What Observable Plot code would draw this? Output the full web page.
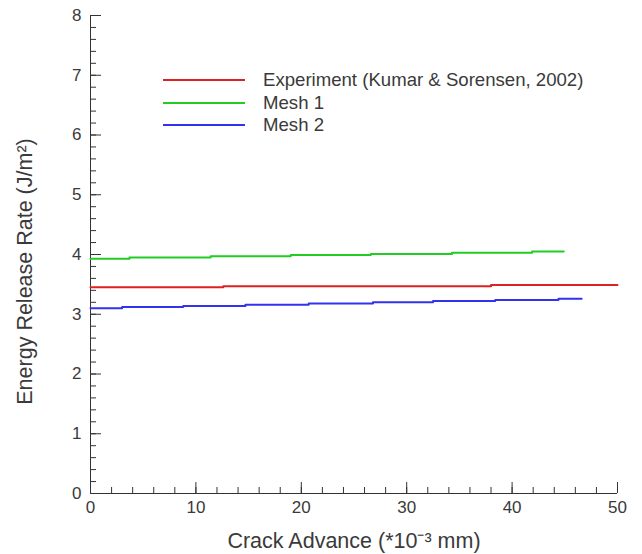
<!DOCTYPE html>
<html><head><meta charset="utf-8">
<script src="https://cdn.jsdelivr.net/npm/d3@7"></script>
<script src="https://cdn.jsdelivr.net/npm/@observablehq/plot@0.6"></script>
<style>
body{margin:0;background:#fff;font-family:"Liberation Sans",Arial,sans-serif;}
#wrap{position:relative;width:642px;height:554px;}
#legend{position:absolute;left:163px;top:69px;font-size:18.6px;color:#3a3a3a;}
#legend .row{display:flex;align-items:center;height:22.5px;}
#legend .sw{width:82px;height:2px;margin-right:18px;}
</style></head><body>
<div id="wrap"></div>
<script>
const seriesNames = ["Experiment (Kumar & Sorensen, 2002)", "Mesh 1", "Mesh 2"];
const seriesColors = ["#dd2222", "#22cc22", "#3333ee"];
const expX = [0, 12.6, 38.0, 50];
const expY = [3.45, 3.47, 3.49, 3.49];
const mesh1X = [0, 3.7, 11.4, 19.0, 26.6, 34.3, 41.9, 44.9];
const mesh1Y = [3.93, 3.95, 3.97, 3.99, 4.01, 4.03, 4.05, 4.05];
const mesh2X = [0, 3.0, 8.8, 14.7, 20.7, 26.8, 32.5, 38.4, 44.4, 46.6];
const mesh2Y = [3.10, 3.12, 3.14, 3.16, 3.18, 3.20, 3.22, 3.24, 3.26, 3.26];
const xMajor = [0, 10, 20, 30, 40, 50];
const yMajor = [0, 1, 2, 3, 4, 5, 6, 7, 8];
const xMinor = d3.range(0, 50.01, 2);
const yMinor = d3.range(0, 8.01, 0.2);
const xTitle = "Crack Advance (*10⁻³ mm)";
const yTitle = "Energy Release Rate (J/m²)";

const rows = [];
[[expX, expY], [mesh1X, mesh1Y], [mesh2X, mesh2Y]].forEach(([xs, ys], i) => {
  xs.forEach((x, j) => rows.push({series: seriesNames[i], x, y: ys[j]}));
});

const axisColor = "#333";
const txt = "#3a3a3a";
const chart = Plot.plot({
  width: 642, height: 554,
  marginLeft: 90, marginRight: 25, marginTop: 15, marginBottom: 61,
  style: {fontFamily: "'Liberation Sans', Arial, sans-serif", fontSize: "16px", color: txt, background: "#fff"},
  x: {domain: [0, 50]},
  y: {domain: [0, 8]},
  color: {domain: seriesNames, range: seriesColors},
  marks: [
    // inward ticks (shifted inside the frame)
    Plot.axisX(xMinor, {tickSize: 6, dy: -6, text: null, stroke: axisColor, label: null}),
    Plot.axisX(xMajor, {tickSize: 11, dy: -11, text: null, stroke: axisColor, label: null}),
    Plot.axisY(yMinor, {tickSize: 6, dx: 6, text: null, stroke: axisColor, label: null}),
    Plot.axisY(yMajor, {tickSize: 11, dx: 11, text: null, stroke: axisColor, label: null}),
    // tick labels
    Plot.axisX(xMajor, {tickSize: 0, tickPadding: 7, fill: txt, fontSize: 17, tickFormat: "d", label: null}),
    Plot.axisY(yMajor, {tickSize: 0, tickPadding: 9, fill: txt, fontSize: 17, tickFormat: "d", label: null}),
    // axis titles
    Plot.text([xTitle], {frameAnchor: "bottom", dy: 54, text: d => d, fontSize: 21.5, fill: txt}),
    Plot.text([yTitle], {frameAnchor: "left", textAnchor: "middle", rotate: -90, dx: -65, dy: 17, text: d => d, fontSize: 21.5, fill: txt}),
    Plot.ruleX([0], {stroke: axisColor}),
    Plot.ruleY([0], {stroke: axisColor}),
    Plot.line(rows, {x: "x", y: "y", z: "series", stroke: "series", strokeWidth: 2, curve: "step-after"})
  ]
});
const wrap = document.getElementById("wrap");
wrap.appendChild(chart);
const leg = document.createElement("div");
leg.id = "legend";
seriesNames.forEach((n, i) => {
  const r = document.createElement("div");
  r.className = "row";
  r.innerHTML = `<div class="sw" style="background:${seriesColors[i]}"></div><span></span>`;
  r.querySelector("span").textContent = n;
  leg.appendChild(r);
});
wrap.appendChild(leg);
</script>
</body></html>
